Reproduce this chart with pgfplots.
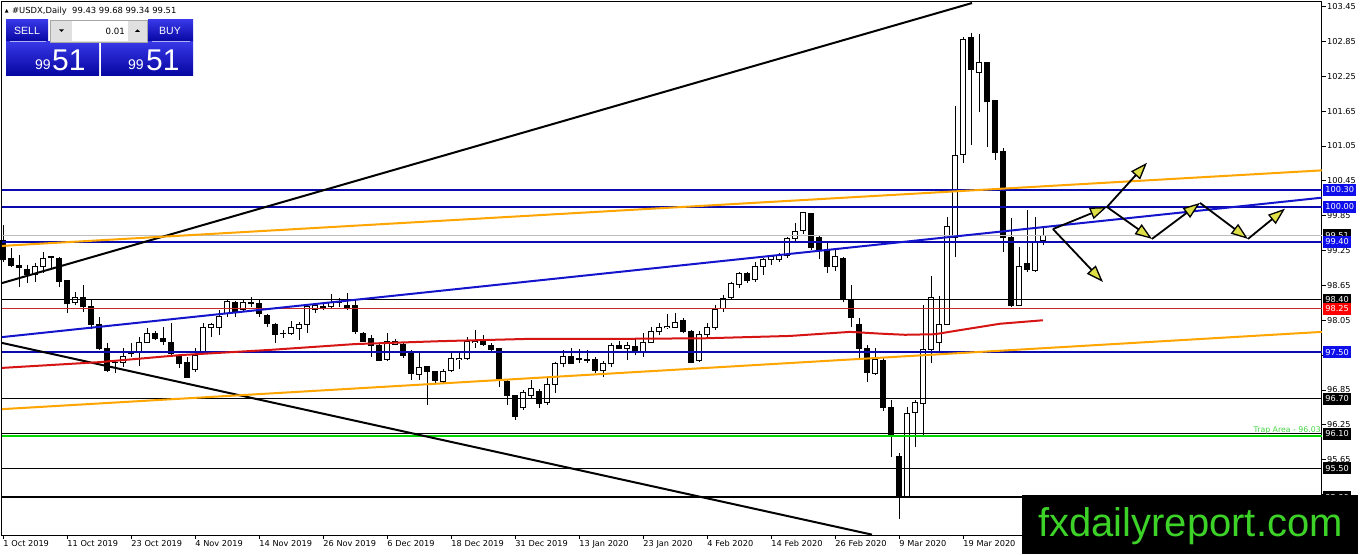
\documentclass[border=0pt]{standalone}
\usepackage{fontspec}
\setmainfont{DejaVu Sans}
\newfontfamily\arialfont{Liberation Sans}
\usepackage{pgfplots}
\pgfplotsset{compat=1.18}
\usepackage{pgfplotstable}
\usetikzlibrary{arrows.meta}

\definecolor{lvlblue}{RGB}{10,10,175}
\definecolor{chanblue}{RGB}{20,20,205}
\definecolor{boxblue}{RGB}{15,15,235}
\definecolor{orangeln}{RGB}{255,165,0}
\definecolor{mared}{RGB}{215,20,20}
\definecolor{thinred}{RGB}{200,40,40}
\definecolor{trapgreen}{RGB}{0,215,0}
\definecolor{traptext}{RGB}{70,215,70}
\definecolor{bidgrey}{RGB}{190,190,190}
\definecolor{logogreen}{RGB}{60,210,40}
\definecolor{arrowyel}{RGB}{222,222,70}
\definecolor{wtop}{RGB}{55,55,230}
\definecolor{wbot}{RGB}{5,5,160}

% daily candles: bar index, open, high, low, close
\pgfplotstableread{
i o h l c
0 99.43 99.69 99.05 99.09
1 99.12 99.29 98.97 99.00
2 99.00 99.17 98.62 98.95
3 98.93 99.00 98.69 98.83
4 98.83 99.04 98.71 98.97
5 98.97 99.22 98.86 99.12
6 99.13 99.16 98.92 99.14
7 99.12 99.14 98.62 98.71
8 98.73 98.74 98.17 98.33
9 98.35 98.54 98.31 98.45
10 98.45 98.66 98.19 98.28
11 98.29 98.40 97.90 97.98
12 97.98 98.10 97.54 97.57
13 97.57 97.66 97.16 97.19
14 97.32 97.37 97.14 97.33
15 97.33 97.57 97.25 97.42
16 97.48 97.66 97.42 97.49
17 97.49 97.76 97.26 97.66
18 97.66 97.92 97.66 97.83
19 97.83 97.86 97.71 97.74
20 97.74 97.93 97.62 97.68
21 97.66 98.00 97.45 97.47
22 97.42 97.45 97.23 97.31
23 97.33 97.42 97.07 97.07
24 97.21 97.57 97.16 97.45
25 97.50 98.00 97.50 97.92
26 97.92 98.00 97.76 97.97
27 97.93 98.23 97.80 98.12
28 98.17 98.40 98.11 98.38
29 98.36 98.38 98.11 98.19
30 98.24 98.42 98.19 98.35
31 98.34 98.45 98.28 98.35
32 98.33 98.42 98.11 98.16
33 98.14 98.16 97.93 98.00
34 97.98 98.00 97.66 97.81
35 97.83 97.88 97.74 97.83
36 97.83 98.04 97.80 97.92
37 97.90 98.02 97.71 97.98
38 97.98 98.28 97.83 98.28
39 98.24 98.35 98.17 98.30
40 98.29 98.36 98.23 98.27
41 98.28 98.50 98.26 98.36
42 98.36 98.43 98.28 98.36
43 98.31 98.52 98.23 98.26
44 98.31 98.40 97.82 97.85
45 97.83 97.85 97.67 97.69
46 97.73 97.80 97.42 97.61
47 97.61 97.66 97.35 97.36
48 97.38 97.83 97.35 97.68
49 97.64 97.73 97.62 97.69
50 97.64 97.66 97.40 97.45
51 97.47 97.54 97.02 97.14
52 97.12 97.50 97.02 97.24
53 97.26 97.26 96.59 97.16
54 97.16 97.18 96.94 97.02
55 97.00 97.21 96.97 97.16
56 97.18 97.49 97.16 97.40
57 97.38 97.49 97.21 97.40
58 97.40 97.76 97.37 97.68
59 97.66 97.88 97.57 97.68
60 97.68 97.80 97.61 97.64
61 97.62 97.66 97.49 97.55
62 97.57 97.57 96.90 97.02
63 97.00 97.02 96.59 96.76
64 96.76 96.76 96.33 96.39
65 96.54 96.85 96.50 96.80
66 96.76 97.02 96.71 96.88
67 96.83 96.87 96.54 96.61
68 96.63 97.07 96.59 96.95
69 96.95 97.33 96.80 97.31
70 97.31 97.54 97.24 97.42
71 97.43 97.57 97.30 97.31
72 97.40 97.55 97.31 97.38
73 97.38 97.54 97.31 97.36
74 97.37 97.42 97.14 97.19
75 97.19 97.35 97.07 97.30
76 97.30 97.66 97.25 97.62
77 97.62 97.69 97.57 97.57
78 97.57 97.68 97.37 97.61
79 97.59 97.74 97.45 97.49
80 97.50 97.83 97.42 97.66
81 97.66 97.93 97.66 97.86
82 97.85 98.00 97.80 97.93
83 97.92 98.16 97.90 97.95
84 97.93 98.17 97.93 98.02
85 98.05 98.09 97.83 97.85
86 97.85 97.88 97.31 97.33
87 97.36 97.86 97.33 97.81
88 97.80 98.00 97.76 97.93
89 97.93 98.31 97.88 98.24
90 98.26 98.48 98.19 98.43
91 98.45 98.71 98.40 98.69
92 98.67 98.88 98.60 98.85
93 98.86 98.88 98.69 98.73
94 98.76 99.05 98.71 98.97
95 98.98 99.12 98.83 99.09
96 99.09 99.17 99.00 99.14
97 99.10 99.21 99.05 99.16
98 99.17 99.48 99.12 99.45
99 99.46 99.72 99.38 99.58
100 99.59 99.91 99.53 99.90
101 99.88 99.90 99.26 99.31
102 99.47 99.52 99.10 99.26
103 99.26 99.38 98.86 98.97
104 98.97 99.28 98.90 99.14
105 99.12 99.14 98.36 98.40
106 98.40 98.66 97.93 98.10
107 97.98 98.09 97.36 97.57
108 97.57 97.62 96.98 97.15
109 97.14 97.57 97.11 97.37
110 97.36 97.40 96.49 96.54
111 96.54 96.68 95.70 96.07
112 95.71 95.76 94.63 95.02
113 95.02 96.56 95.02 96.45
114 96.47 96.68 95.87 96.63
115 96.61 98.31 96.04 97.54
116 97.54 98.81 97.31 98.45
117 97.66 98.47 97.49 97.98
118 97.98 99.83 97.98 99.67
119 99.48 101.74 99.14 100.89
120 100.91 102.93 100.76 102.89
121 102.91 102.99 101.07 102.37
122 102.32 102.98 101.63 102.48
123 102.48 102.50 101.03 101.81
124 101.84 101.84 100.81 100.93
125 100.95 101.02 99.22 99.47
126 99.47 99.81 98.28 98.30
127 98.30 99.31 98.30 98.98
128 99.02 99.95 98.88 98.93
129 98.91 99.83 98.88 99.41
130 99.43 99.68 99.34 99.51
}\candles

\tikzset{
  lvl/.style={anchor=west, xshift=1pt, inner xsep=2.2pt, inner ysep=0pt,
    minimum height=12pt, text height=6pt, text depth=0pt, text=white,
    font=\fontsize{8.2}{9}\selectfont},
  fc/.style={black, line width=1.8pt,
    -{Triangle[length=17pt, width=12pt, line width=1.3pt, fill=arrowyel]}}
}
% a candle part drawn as a thick error bar: colour, width
\pgfplotsset{
  stick/.style 2 args={draw=none, mark=none, forget plot,
    error bars/.cd, y dir=plus, y explicit, error mark=none,
    error bar style={draw=#1, line width=#2}},
}

\begin{document}
\begin{tikzpicture}
\useasboundingbox (0,0) rectangle (1362pt,554pt);
\fill[white] (0,0) rectangle (1362pt,554pt);
\begin{axis}[
  at={(2pt,19pt)}, anchor=south west,
  scale only axis, width=1320pt, height=533pt,
  xmin=-0.1625, xmax=164.84, ymin=94.354, ymax=103.528,
  clip=false,
  axis line style={black, line width=1pt},
  tick align=outside, xtick pos=bottom, ytick pos=right, yticklabel pos=right,
  major tick length=4pt,
  tick style={black, line width=0.8pt},
  xtick={0,8,...,120},
  xticklabels={1 Oct 2019, 11 Oct 2019, 23 Oct 2019, 4 Nov 2019, 14 Nov 2019,
    26 Nov 2019, 6 Dec 2019, 18 Dec 2019, 31 Dec 2019, 13 Jan 2020, 23 Jan 2020,
    4 Feb 2020, 14 Feb 2020, 26 Feb 2020, 9 Mar 2020, 19 Mar 2020},
  xticklabel style={anchor=north west, inner sep=0pt, yshift=-1pt},
  ytick={95.05,95.65,96.25,96.85,97.45,98.05,98.65,99.25,99.85,100.45,101.05,101.65,102.25,102.85,103.45},
  yticklabel style={anchor=west, inner sep=0pt, xshift=1pt,
    /pgf/number format/.cd, fixed, fixed zerofill, precision=2},
  /pgf/number format/assume math mode=true,
  ticklabel style={font=\fontsize{8.2}{9}\selectfont},
]
% candles: wick, then body outline, then hollow inside of rising bars
\addplot[stick={black}{1pt}] table[x=i, y=l, y error expr=\thisrow{h}-\thisrow{l}] {\candles};
\addplot[stick={black}{5.8pt}]
  table[x=i, y expr={min(\thisrow{o},\thisrow{c})-0.0086},
        y error expr={abs(\thisrow{c}-\thisrow{o})+0.0172}] {\candles};
\addplot[stick={white}{3.8pt}]
  table[x=i, y expr={min(\thisrow{o},\thisrow{c})+0.0086},
        y error expr={(\thisrow{c}>\thisrow{o})*max(abs(\thisrow{c}-\thisrow{o})-0.0172,0)}] {\candles};

% bid line and levels
\addplot[bidgrey, line width=1pt] coordinates {(-0.1625,99.51) (164.84,99.51)};
\addplot[lvlblue, line width=2pt] coordinates {(-0.1625,100.30) (164.84,100.30)};
\addplot[lvlblue, line width=2pt] coordinates {(-0.1625,100.00) (164.84,100.00)};
\addplot[lvlblue, line width=2pt] coordinates {(-0.1625,99.40) (164.84,99.40)};
\addplot[black, line width=1pt] coordinates {(-0.1625,98.40) (164.84,98.40)};
\addplot[thinred, line width=1pt] coordinates {(-0.1625,98.25) (164.84,98.25)};
\addplot[lvlblue, line width=2pt] coordinates {(-0.1625,97.50) (164.84,97.50)};
\addplot[black, line width=1pt] coordinates {(-0.1625,96.70) (164.84,96.70)};
\addplot[black, line width=1pt] coordinates {(-0.1625,96.10) (164.84,96.10)};
\addplot[trapgreen, line width=2pt] coordinates {(-0.1625,96.05) (164.84,96.05)};
\addplot[black, line width=1pt] coordinates {(-0.1625,95.50) (164.84,95.50)};
\addplot[black, line width=2pt] coordinates {(-0.1625,95.00) (164.84,95.00)};

% trend lines
\addplot[black, line width=2pt] coordinates {(-0.1625,98.69) (121.09,103.51)};
\addplot[black, line width=2pt] coordinates {(-0.1625,97.66) (108.59,94.36)};
\addplot[orangeln, line width=2pt] coordinates {(-0.1625,99.33) (164.84,100.63)};
\addplot[orangeln, line width=2pt] coordinates {(-0.1625,96.52) (164.84,97.85)};
\addplot[chanblue, line width=2pt] coordinates {(-0.1625,97.76) (164.84,100.16)};

% moving average
\addplot[mared, line width=2pt] coordinates {
  (-0.16,97.23) (12.09,97.33) (22.09,97.45) (33.34,97.54) (43.96,97.64)
  (54.59,97.69) (65.84,97.73) (77.09,97.73) (87.71,97.74) (98.34,97.78)
  (105.84,97.85) (109.59,97.82) (112.71,97.80) (116.46,97.81) (119.59,97.88)
  (124.59,97.99) (129.96,98.05)};

% scenario arrows
\addplot[fc] coordinates {(131.21,99.62) (137.96,100.00)};
\addplot[fc] coordinates {(137.96,100.00) (142.96,100.76)};
\addplot[fc] coordinates {(131.21,99.62) (137.46,98.71)};
\addplot[fc] coordinates {(137.96,100.00) (143.59,99.45)};
\addplot[fc] coordinates {(143.59,99.45) (149.59,100.07)};
\addplot[fc] coordinates {(149.59,100.07) (155.59,99.45)};
\addplot[fc] coordinates {(155.59,99.45) (160.21,99.97)};

\coordinate (l10030) at (axis cs:164.84,100.30);
\coordinate (l10000) at (axis cs:164.84,100.00);
\coordinate (l9951) at (axis cs:164.84,99.51);
\coordinate (l9940) at (axis cs:164.84,99.40);
\coordinate (l9840) at (axis cs:164.84,98.40);
\coordinate (l9825) at (axis cs:164.84,98.25);
\coordinate (l9750) at (axis cs:164.84,97.50);
\coordinate (l9670) at (axis cs:164.84,96.70);
\coordinate (l9610) at (axis cs:164.84,96.10);
\coordinate (l9550) at (axis cs:164.84,95.50);
\coordinate (l9500) at (axis cs:164.84,95.00);
\coordinate (trap) at (axis cs:164.84,96.05);
\end{axis}

% level labels on the price scale
\node[lvl, fill=boxblue] at (l10030) {100.30};
\node[lvl, fill=boxblue] at (l10000) {100.00};
\node[lvl, fill=black] at (l9951) {99.51};
\node[lvl, fill=boxblue] at (l9940) {99.40};
\node[lvl, fill=black] at (l9840) {98.40};
\node[lvl, fill=red] at (l9825) {98.25};
\node[lvl, fill=boxblue] at (l9750) {97.50};
\node[lvl, fill=black] at (l9670) {96.70};
\node[lvl, fill=black] at (l9610) {96.10};
\node[lvl, fill=black] at (l9550) {95.50};
\node[lvl, fill=black] at (l9500) {95.00};
\node[anchor=south east, inner sep=0pt, yshift=2pt, xshift=-1pt, text=traptext,
  font=\fontsize{7.8}{9}\selectfont] at (trap) {Trap Area - 96.03};

% watermark
\fill[black] (1022pt,0pt) rectangle (1358pt,59pt);
\node[anchor=base west, inner sep=0pt, text=logogreen,
  font=\arialfont\fontsize{40}{40}\selectfont] at (1038pt,17pt) {fxdailyreport.com};

% title and one-click trading panel
\begin{scope}[x=1pt, y=-1pt, yshift=554pt]
  \node[anchor=center, inner sep=0pt, font=\fontsize{5}{6}\selectfont] at (6.7,11) {▲};
  \node[anchor=west, inner sep=0pt, font=\fontsize{8.4}{10}\selectfont] at (12,11)
    {\#USDX,Daily\ \ 99.43 99.68 99.34 99.51};
  \shade[top color=wtop, bottom color=wbot] (6,20) rectangle (48,42);
  \shade[top color=wtop, bottom color=wbot] (6,42) rectangle (99,76);
  \shade[top color=wtop, bottom color=wbot] (148,20) rectangle (193,42);
  \shade[top color=wtop, bottom color=wbot] (101,42) rectangle (193,76);
  \draw[white!60!wtop, line width=0.8pt] (10,41.5) -- (46,41.5);
  \draw[white!60!wtop, line width=0.8pt] (152,41.5) -- (190,41.5);
  \fill[black!12] (50,20) rectangle (147,42);
  \fill[white] (72,21) rectangle (128,41);
  \draw[black!35, line width=0.6pt] (50,20) rectangle (147,42);
  \fill[black] (59,29.5) -- (64,29.5) -- (61.5,32) -- cycle;
  \fill[black] (135,32) -- (140,32) -- (137.5,29.5) -- cycle;
  \node[anchor=east, inner sep=0pt, font=\fontsize{8.6}{10}\selectfont] at (125,31) {0.01};
  \node[text=white, inner sep=0pt, font=\arialfont\fontsize{10.5}{12}\selectfont] at (27,31) {SELL};
  \node[text=white, inner sep=0pt, font=\arialfont\fontsize{10.5}{12}\selectfont] at (170,31) {BUY};
  \node[anchor=base west, text=white, inner sep=0pt, font=\arialfont\fontsize{14}{14}\selectfont] at (35,70) {99};
  \node[anchor=base west, text=white, inner sep=0pt, font=\arialfont\fontsize{30}{30}\selectfont] at (52,71) {51};
  \node[anchor=base west, text=white, inner sep=0pt, font=\arialfont\fontsize{14}{14}\selectfont] at (128,70) {99};
  \node[anchor=base west, text=white, inner sep=0pt, font=\arialfont\fontsize{30}{30}\selectfont] at (146,71) {51};
\end{scope}
\end{tikzpicture}
\end{document}
